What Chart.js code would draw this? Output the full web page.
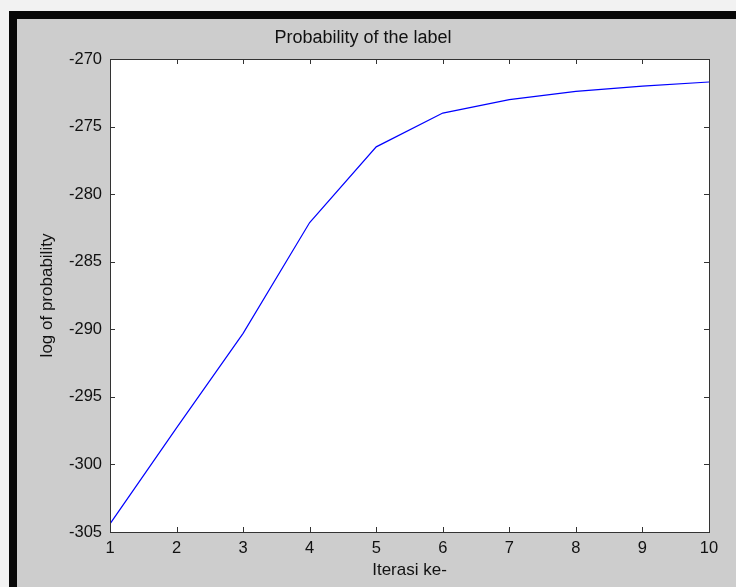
<!DOCTYPE html>
<html>
<head>
<meta charset="utf-8">
<script src="https://cdn.jsdelivr.net/npm/chart.js@4"></script>
<style>
  body { margin: 0; background: #f2f2f2; width: 736px; height: 587px; overflow: hidden; position: relative; }
  .frame { position: absolute; left: 9px; top: 11px; width: 719px; height: 568px;
           border-top: 8px solid #080808; border-left: 8px solid #080808; background: #cdcdcd; }
  #chart { position: absolute; left: 0; top: 0; }
</style>
</head>
<body>
<div class="frame">
  <canvas id="chart" width="719" height="568"></canvas>
</div>
<script>
const iterations = [1, 2, 3, 4, 5, 6, 7, 8, 9, 10];
const logProb = [-304.4, -297.3, -290.3, -282.1, -276.5, -274.0, -273.0, -272.4, -272.0, -271.7];
const yMin = -305;
const yMax = -270;

const FONT = "'Liberation Sans', Arial, sans-serif";
const AXIS = "#333333";

// white plot area, box and inward ticks like the original figure
const boxPlugin = {
  id: "box",
  beforeDatasetsDraw(chart) {
    const { ctx, chartArea: a } = chart;
    ctx.save();
    ctx.fillStyle = "#ffffff";
    ctx.fillRect(a.left, a.top, a.right - a.left, a.bottom - a.top);
    ctx.restore();
  },
  afterDraw(chart) {
    const { ctx, chartArea: a, scales } = chart;
    const len = 5;
    ctx.save();
    ctx.strokeStyle = AXIS;
    ctx.lineWidth = 1;
    ctx.beginPath();
    scales.x.ticks.forEach((t) => {
      const px = Math.round(scales.x.getPixelForValue(t.value)) + 0.5;
      ctx.moveTo(px, a.bottom);
      ctx.lineTo(px, a.bottom - len);
      ctx.moveTo(px, a.top);
      ctx.lineTo(px, a.top + len);
    });
    scales.y.ticks.forEach((t) => {
      const py = Math.round(scales.y.getPixelForValue(t.value)) + 0.5;
      ctx.moveTo(a.left, py);
      ctx.lineTo(a.left + len, py);
      ctx.moveTo(a.right, py);
      ctx.lineTo(a.right - len, py);
    });
    ctx.stroke();
    ctx.strokeRect(Math.round(a.left) + 0.5, Math.round(a.top) + 0.5,
      Math.round(a.right - a.left), Math.round(a.bottom - a.top));
    ctx.restore();
  },
};

const ctx = document.getElementById("chart");

const chart = new Chart(ctx, {
  type: "line",
  data: {
    labels: iterations,
    datasets: [
      {
        data: iterations.map((x, i) => ({ x: x, y: logProb[i] })),
        borderColor: "#0000ff",
        borderWidth: 1.2,
        pointRadius: 0,
        tension: 0,
        fill: false,
      },
    ],
  },
  options: {
    responsive: false,
    animation: false,
    layout: { padding: { left: 0, right: 27, top: 0, bottom: 0 } },
    plugins: {
      legend: { display: false },
      tooltip: { enabled: false },
      title: {
        display: true,
        text: "Probability of the label",
        color: "#111111",
        font: { family: FONT, size: 18, weight: "normal" },
        padding: { top: 8, bottom: 10.4 },
      },
    },
    scales: {
      x: {
        type: "linear",
        min: 1,
        max: 10,
        afterFit(scale) { scale.height = 55; },
        ticks: { stepSize: 1, color: "#111111", padding: 7, font: { family: FONT, size: 16.5 } },
        grid: { display: true, drawOnChartArea: false, drawTicks: false },
        border: { display: false },
        title: {
          display: true,
          text: "Iterasi ke-",
          color: "#111111",
          font: { family: FONT, size: 17 },
          padding: { top: 0, bottom: 6 },
        },
      },
      y: {
        min: yMin,
        max: yMax,
        afterFit(scale) { scale.width = 93; },
        ticks: { stepSize: 5, color: "#111111", padding: 8, font: { family: FONT, size: 16.5 } },
        grid: { display: true, drawOnChartArea: false, drawTicks: false },
        border: { display: false },
        title: {
          display: true,
          text: "log of probability",
          color: "#111111",
          font: { family: FONT, size: 17 },
          padding: { top: 20, bottom: 0 },
        },
      },
    },
  },
  plugins: [boxPlugin],
});
</script>
</body>
</html>
